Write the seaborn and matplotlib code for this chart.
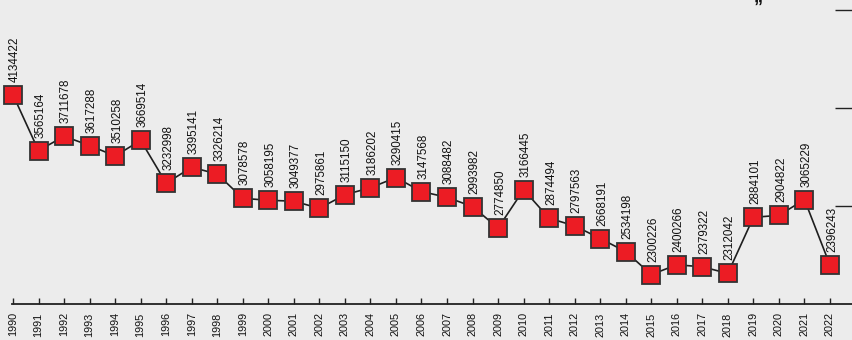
import matplotlib
matplotlib.use("Agg")
import matplotlib.pyplot as plt
import seaborn as sns
import pandas as pd

years = list(range(1990, 2023))
values = [4134422, 3565164, 3711678, 3617288, 3510258, 3669514, 3232998, 3395141,
          3326214, 3078578, 3058195, 3049377, 2975861, 3115150, 3186202, 3290415,
          3147568, 3088482, 2993982, 2774850, 3166445, 2874494, 2797563, 2668191,
          2534198, 2300226, 2400266, 2379322, 2312042, 2884101, 2904822, 3065229,
          2396243]
right_ticks = [3000000, 4000000, 5000000]

df = pd.DataFrame({"year": years, "value": values})

sns.set_theme(style="white")
plt.rcParams['font.family'] = ['Liberation Sans', 'DejaVu Sans']

bg = "#ececec"
fig = plt.figure(figsize=(8.52, 3.40), dpi=100, facecolor=bg)
ax = fig.add_axes([12/852, 36/340, 840/852, 304/340])
ax.set_facecolor(bg)

sns.lineplot(data=df, x="year", y="value", ax=ax, color="#1e1e1e", linewidth=1.2,
             marker="s", markersize=13, markerfacecolor="#ec1c24",
             markeredgecolor="#333333", markeredgewidth=1.3, clip_on=False, zorder=3)

for x, v in zip(years, values):
    ax.annotate(str(v), (x, v), xytext=(2, 13), textcoords="offset pixels",
                rotation=90, ha="center", va="bottom", fontsize=8.4, color="#111111")

ax.set_xlim(1990 - 1/25.53, 2022 + 22/25.53)
ax.set_ylim(2.0e6, 5.102e6)
ax.set_xticks(years)
ax.set_xticklabels([str(y) for y in years], rotation=90, fontsize=7.8, color="#111111")
ax.set_yticks(right_ticks)
ax.set_yticklabels([])
ax.yaxis.tick_right()
ax.tick_params(axis="y", right=True, left=False, direction="in", length=12.2,
               width=1.0, color="#222222")
ax.tick_params(axis="x", bottom=True, direction="in", length=4.5, width=1.0,
               color="#222222", pad=6)
for s in ["top", "left", "right"]:
    ax.spines[s].set_visible(False)
ax.spines["bottom"].set_color("#222222")
ax.spines["bottom"].set_linewidth(1.3)
ax.set_xlabel("")
ax.set_ylabel("")
ax.grid(False)

fig.text(758/852, 1.0, "\u201d", fontsize=13, fontweight="bold", ha="center",
         va="top", color="#111111")

fig.savefig("out.png", dpi=100, facecolor=bg)
